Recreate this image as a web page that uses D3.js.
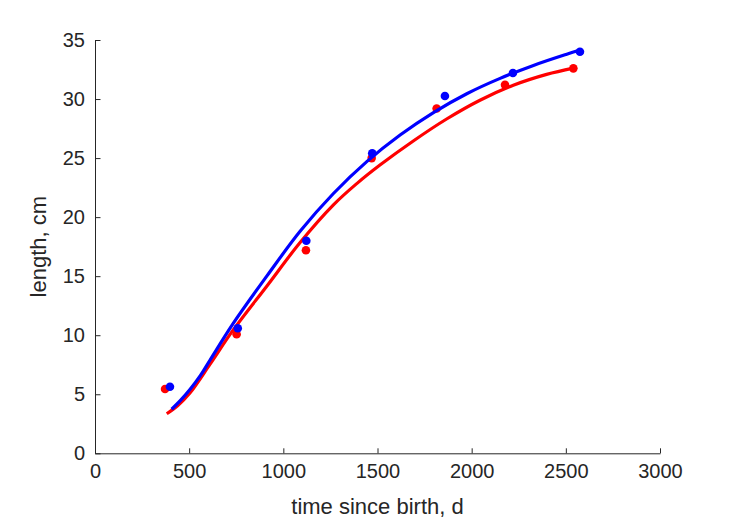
<!DOCTYPE html>
<html><head><meta charset="utf-8">
<script src="https://cdn.jsdelivr.net/npm/d3@7"></script>
<style>body{margin:0;background:#fff}svg{display:block}</style>
</head><body>
<svg id="c" width="729" height="521"></svg>
<script>
const xTicks = [0, 500, 1000, 1500, 2000, 2500, 3000];
const yTicks = [0, 5, 10, 15, 20, 25, 30, 35];

const redX = [372, 752, 1120, 1469, 1814, 2177, 2540];
const redY = [5.44, 10.08, 17.2, 25.0, 29.2, 31.2, 32.6];
const blueX = [398, 758, 1122, 1472, 1858, 2219, 2575];
const blueY = [5.64, 10.59, 18.0, 25.4, 30.26, 32.2, 34.0];

const redFitX = [381, 440, 504, 611, 734, 912, 1089, 1266, 1390, 1513, 1690, 1867, 2044, 2221, 2398, 2540];
const redFitY = [3.35, 4.05, 5.1, 7.55, 10.45, 14.15, 17.85, 21.04, 22.84, 24.41, 26.45, 28.31, 29.9, 31.17, 32.09, 32.62];
const blueFitX = [407, 455, 504, 560, 611, 734, 912, 1089, 1266, 1443, 1620, 1797, 1974, 2151, 2328, 2505, 2575];
const blueFitY = [3.73, 4.5, 5.4, 6.6, 7.9, 11.0, 15.0, 18.8, 22.0, 24.7, 26.95, 28.85, 30.45, 31.75, 32.85, 33.8, 34.15];

const svg = d3.select("#c");
const L = 95, R = 660, T = 40, B = 453.3;
const x = d3.scaleLinear().domain([0, 3000]).range([L, R]);
const y = d3.scaleLinear().domain([0, 35]).range([B, T]);
const ink = "#262626";
const font = "'Liberation Sans', Arial, Helvetica, sans-serif";

const xa = svg.append("g").attr("transform", `translate(0,${B})`)
  .call(d3.axisBottom(x).tickValues(xTicks).tickFormat(d3.format("d")).tickSizeInner(-5).tickSizeOuter(0).tickPadding(11));
const ya = svg.append("g").attr("transform", `translate(${L},0)`)
  .call(d3.axisLeft(y).tickValues(yTicks).tickFormat(d3.format("d")).tickSizeInner(-5.5).tickSizeOuter(0).tickPadding(10));
[xa, ya].forEach(a => {
  a.select(".domain").attr("stroke", ink).attr("stroke-width", 1);
  a.selectAll(".tick line").attr("stroke", ink).attr("stroke-width", 1);
  a.selectAll(".tick text").attr("fill", ink).style("font-family", font).style("font-size", "20px");
});

svg.append("text").attr("x", (L + R) / 2).attr("y", 514).attr("text-anchor", "middle")
  .attr("fill", ink).style("font-family", font).style("font-size", "22px").text("time since birth, d");
svg.append("text").attr("transform", `translate(46,${(T + B) / 2}) rotate(-90)`).attr("text-anchor", "middle")
  .attr("fill", ink).style("font-family", font).style("font-size", "22px").text("length, cm");

const line = d3.line().x(d => x(d[0])).y(d => y(d[1])).curve(d3.curveCatmullRom.alpha(0.5));
function series(px, py, fx, fy, color) {
  svg.append("g").selectAll("circle").data(d3.zip(px, py)).join("circle")
    .attr("cx", d => x(d[0])).attr("cy", d => y(d[1])).attr("r", 4.3).attr("fill", color);
  svg.append("path").datum(d3.zip(fx, fy)).attr("d", line)
    .attr("fill", "none").attr("stroke", color).attr("stroke-width", 3.2);
}
series(redX, redY, redFitX, redFitY, "#ff0000");
series(blueX, blueY, blueFitX, blueFitY, "#0000ff");
</script>
</body></html>
